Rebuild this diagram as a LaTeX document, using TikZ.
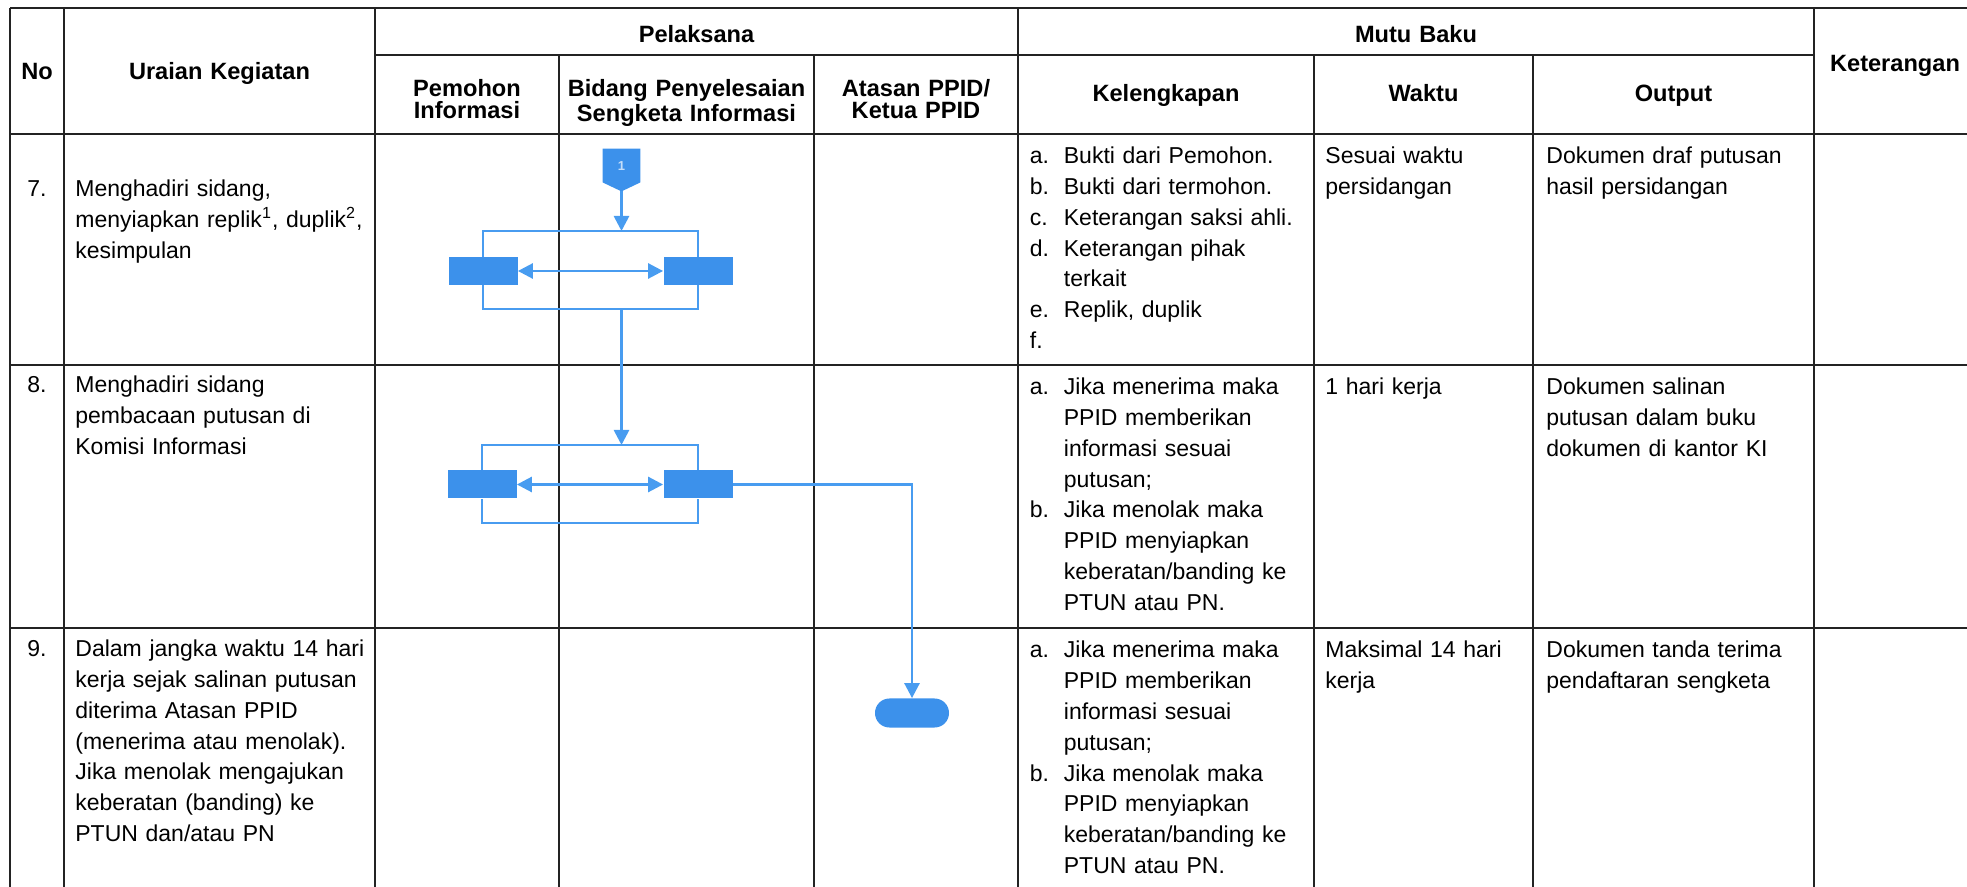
\documentclass[tikz,border=0pt]{standalone}
\usepackage{fontspec}
\setmainfont{Liberation Sans}
\usetikzlibrary{arrows.meta}
\definecolor{flowblue}{RGB}{60,145,235}
\definecolor{lineblue}{RGB}{72,156,240}
\definecolor{gridline}{RGB}{35,35,35}
\lineskiplimit=-10pt
\begin{document}
\begin{tikzpicture}[x=0.5pt,y=-0.5pt,
  hline/.style={draw=gridline, line width=0.95pt},
  vline/.style={draw=gridline, line width=0.7pt},
  hdr/.style={font=\fontsize{11.8}{11}\bfseries\selectfont, inner sep=0, anchor=base, align=center, text width=#1},
  hdr/.default=120pt,
  body/.style={font=\fontsize{11.5}{15.35}\selectfont, inner sep=0, anchor=base west, align=left, text width=175pt},
  proc/.style={fill=flowblue, draw=none, minimum width=34.5pt, minimum height=14pt, inner sep=0},
  term/.style={fill=flowblue, draw=none, minimum width=37pt, minimum height=14.5pt, rounded corners=7.2pt, inner sep=0},
  flow/.style={draw=lineblue, line width=1.35pt},
  tip/.style={-{Triangle[length=7.5pt,width=7.5pt]}},
  dtip/.style={{Triangle[length=7.5pt,width=7.5pt]}-{Triangle[length=7.5pt,width=7.5pt]}}
]
\useasboundingbox (0,0) rectangle (1967,887);

% ---------- table grid ----------
\begin{scope}
\clip (0,0) rectangle (1967,887);
\draw[hline] (10,8) -- (1990,8);
\draw[hline] (375,55) -- (1814,55);
\draw[hline] (10,134) -- (1990,134);
\draw[hline] (10,365) -- (1990,365);
\draw[hline] (10,628) -- (1990,628);
\foreach \x in {10,64,375,1018,1814} \draw[vline] (\x,8) -- (\x,900);
\foreach \x in {559,814,1314,1533} \draw[vline] (\x,55) -- (\x,900);
\end{scope}

% ---------- header ----------
\node[hdr=30pt] (hNo) at (37,80) {No};
\node[hdr=150pt] (hUr) at (219.5,80) {Uraian Kegiatan};
\node[hdr=300pt] (hPel) at (696.5,43) {Pelaksana};
\node[hdr=90pt] (hPem) at (467,97) {Pemohon\\Informasi};
\node[hdr=127pt] (hBid) at (686.5,97) {Bidang Penyelesaian\\Sengketa Informasi};
\node[hdr=100pt] (hAts) at (916,97) {Atasan PPID/\\Ketua PPID};
\node[hdr=300pt] (hMut) at (1416,43) {Mutu Baku};
\node[hdr=140pt] (hKel) at (1166,102) {Kelengkapan};
\node[hdr=100pt] (hWak) at (1423.5,102) {Waktu};
\node[hdr=130pt] (hOut) at (1673.5,102) {Output};
\node[hdr=75pt] (hKet) at (1895,72) {Keterangan};

% ---------- row 7 ----------
\node[body] (n7) at (27,197) {7.};
\node[body] (u7) at (75,197) {Menghadiri sidang,\\menyiapkan replik\textsuperscript{1}, duplik\textsuperscript{2},\\kesimpulan};
\node[body] (k7l) at (1029.5,164) {a.\\b.\\c.\\d.\\\mbox{}\\e.\\f.};
\node[body] (k7) at (1063.5,164) {Bukti dari Pemohon.\\Bukti dari termohon.\\Keterangan saksi ahli.\\Keterangan pihak\\terkait\\Replik, duplik};
\node[body] (w7) at (1325,164) {Sesuai waktu\\persidangan};
\node[body] (o7) at (1546,164) {Dokumen draf putusan\\hasil persidangan};

% ---------- row 8 ----------
\node[body] (n8) at (27,393) {8.};
\node[body] (u8) at (75,393) {Menghadiri sidang\\pembacaan putusan di\\Komisi Informasi};
\node[body] (k8a) at (1029.5,395) {a.};
\node[body] (k8at) at (1063.5,395) {Jika menerima maka\\PPID memberikan\\informasi sesuai\\putusan;};
\node[body] (k8b) at (1029.5,518) {b.};
\node[body] (k8bt) at (1063.5,518) {Jika menolak maka\\PPID menyiapkan\\keberatan/banding ke\\PTUN atau PN.};
\node[body] (w8) at (1325,395) {1 hari kerja};
\node[body] (o8) at (1546,395) {Dokumen salinan\\putusan dalam buku\\dokumen di kantor KI};

% ---------- row 9 ----------
\node[body] (n9) at (27,657) {9.};
\node[body] (u9) at (75,657) {Dalam jangka waktu 14 hari\\kerja sejak salinan putusan\\diterima Atasan PPID\\(menerima atau menolak).\\Jika menolak mengajukan\\keberatan (banding) ke\\PTUN dan/atau PN};
\node[body] (k9a) at (1029.5,658) {a.};
\node[body] (k9at) at (1063.5,658) {Jika menerima maka\\PPID memberikan\\informasi sesuai\\putusan;};
\node[body] (k9b) at (1029.5,781) {b.};
\node[body] (k9bt) at (1063.5,781) {Jika menolak maka\\PPID menyiapkan\\keberatan/banding ke\\PTUN atau PN.};
\node[body] (w9) at (1325,658) {Maksimal 14 hari\\kerja};
\node[body] (o9) at (1546,658) {Dokumen tanda terima\\pendaftaran sengketa};

% ---------- flowchart ----------
\node[inner sep=0, minimum width=18.5pt, minimum height=21pt] (c1) at (621.5,170) {};
\fill[flowblue] (c1.north west) -- (c1.north east) -- ([yshift=4.5pt]c1.south east) -- (c1.south) -- ([yshift=4.5pt]c1.south west) -- cycle;
\node[font=\fontsize{6.5}{7}\bfseries\selectfont, text=white!70!flowblue, inner sep=0] (c1t) at (621.5,166) {1};

\coordinate (t1) at (621.5,231);
\coordinate (b1) at (621.5,309);
\node[proc] (L1) at (483,271) {};
\node[proc] (R1) at (698,271) {};
\draw[flow,tip] (c1.south) -- (t1);
\draw[flow] (L1.north) |- (t1) -| (R1.north);
\draw[flow] (L1.south) |- (b1) -| (R1.south);
\draw[flow,dtip] (L1.east) -- (R1.west);

\coordinate (t2) at (621.5,445);
\coordinate (b2) at (621.5,523);
\node[proc] (L2) at (482,484.5) {};
\node[proc] (R2) at (698,484.5) {};
\draw[flow,tip] (b1) -- (t2);
\draw[flow] (L2.north) |- (t2) -| (R2.north);
\draw[flow] (L2.south) |- (b2) -| (R2.south);
\draw[flow,dtip] (L2.east) -- (R2.west);

\node[term] (T) at (912,713) {};
\draw[flow,tip] (R2.east) -| (T.north);
\end{tikzpicture}
\end{document}
